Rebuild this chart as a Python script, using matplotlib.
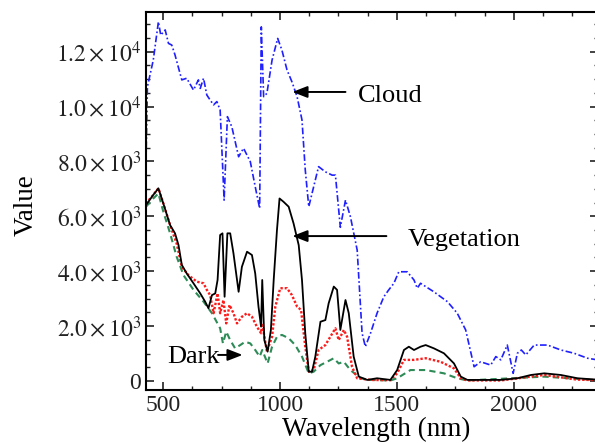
import numpy as np
import matplotlib
matplotlib.use("Agg")
import matplotlib.pyplot as plt
from matplotlib.ticker import MultipleLocator, FixedLocator

plt.rcParams['font.family'] = ['Liberation Serif', 'DejaVu Serif']
plt.rcParams['mathtext.fontset'] = 'stix'

# readings: wavelength (nm), value
cloud_wl = [427, 433, 458, 480, 490, 509, 523, 537, 551, 580, 601, 630, 651, 659,
            673, 687, 701, 716, 730, 744, 761, 775, 794, 823, 844, 873, 894, 913,
            920, 930, 944, 966, 990, 1008, 1030, 1051, 1073, 1094, 1108, 1123,
            1144, 1165, 1194, 1223, 1237, 1258, 1280, 1301, 1330, 1351, 1365,
            1387, 1415, 1444, 1465, 1487, 1508, 1544, 1573, 1587, 1601, 1623,
            1658, 1716, 1758, 1794, 1830, 1858, 1880, 1901, 1923, 1944, 1972,
            1997, 2015, 2032, 2051, 2087, 2144, 2201, 2258, 2315, 2372]
cloud_val = [8000, 10720, 11690, 13090, 12600, 12790, 12300, 12240, 11880, 10970,
             11030, 10600, 10970, 10660, 11030, 10420, 10240, 10060, 10180, 9870,
             6590, 9630, 9260, 8170, 8480, 7990, 7080, 6290, 12900, 10360, 10480,
             11690, 12480, 12060, 11330, 10900, 10360, 9510, 7690, 6350, 7080,
             7810, 7620, 7500, 7500, 5600, 6590, 5990, 4770, 1740, 1250, 1740,
             2470, 3070, 3320, 3560, 3980, 3980, 3680, 3380, 3560, 3440, 3250,
             2890, 2470, 1860, 520, 700, 640, 580, 890, 770, 1310, 280, 1010,
             1130, 950, 1310, 1310, 1130, 1010, 830, 750]

veg_wl = [427, 458, 480, 501, 530, 551, 566, 580, 601, 630, 659, 680, 694, 709,
          723, 733, 744, 754, 763, 775, 787, 801, 823, 837, 859, 880, 894, 908,
          919, 924, 933, 947, 961, 973, 987, 998, 1015, 1037, 1058, 1080, 1094,
          1108, 1123, 1137, 1151, 1173, 1194, 1208, 1230, 1244, 1258, 1280, 1294,
          1315, 1337, 1373, 1415, 1472, 1501, 1530, 1551, 1573, 1601, 1623, 1658,
          1701, 1744, 1773, 1801, 1944, 2015, 2073, 2130, 2201, 2272, 2372]
veg_val = [6410, 6780, 7020, 6470, 5680, 5380, 4950, 4230, 3920, 3560, 3190, 2890,
           2650, 3130, 3190, 3680, 5320, 5380, 3070, 5380, 5380, 4650, 3250, 4160,
           4710, 4590, 3920, 2710, 1980, 3680, 1490, 1070, 1860, 3680, 5500, 6650,
           6530, 6350, 5740, 4950, 3680, 1740, 340, 340, 890, 2160, 2220, 2830,
           3440, 3320, 1860, 2950, 2470, 890, 160, 40, 100, 40, 400, 1130, 1250,
           1130, 1250, 1310, 1190, 1010, 640, 160, 40, 40, 100, 220, 280, 220,
           100, 40]

mix_wl = [427, 458, 480, 501, 530, 558, 580, 608, 644, 673, 687, 701, 716, 733,
          744, 758, 770, 784, 801, 816, 837, 859, 880, 901, 919, 924, 944, 966,
          980, 1001, 1030, 1051, 1073, 1090, 1108, 1123, 1144, 1165, 1194, 1215,
          1237, 1251, 1273, 1287, 1308, 1330, 1387, 1472, 1501, 1530, 1573, 1623,
          1687, 1744, 1773, 1801, 1944, 2073, 2130, 2270, 2372]
mix_val = [6470, 6780, 7020, 6470, 5680, 5010, 4160, 3860, 3620, 3560, 3320, 3130,
           2470, 3190, 2470, 2950, 2100, 2770, 2470, 2100, 2340, 2470, 2340, 1980,
           1740, 2100, 1070, 1610, 2710, 3380, 3380, 3130, 2710, 2590, 1250, 340,
           400, 1130, 1310, 1610, 1920, 1490, 1860, 1610, 520, 100, 40, 30, 280,
           770, 770, 830, 700, 460, 100, 20, 20, 160, 220, 50, 30]

dark_wl = [427, 458, 480, 501, 530, 558, 587, 630, 673, 709, 744, 756, 770, 787,
           808, 830, 851, 873, 894, 913, 924, 947, 966, 987, 1008, 1037, 1065,
           1094, 1123, 1144, 1173, 1201, 1230, 1251, 1273, 1301, 1344, 1387, 1472,
           1501, 1558, 1623, 1701, 1758, 1801, 2130, 2372]
dark_val = [6350, 6650, 6830, 6170, 5380, 4530, 3860, 3320, 2890, 2470, 1920, 1370,
            1800, 1490, 1190, 1310, 1430, 1370, 1130, 890, 1130, 640, 1250, 1610,
            1680, 1560, 1310, 890, 280, 340, 580, 700, 830, 640, 700, 400, 100, 40,
            20, 100, 400, 400, 280, 100, 20, 160, 20]

yticks = [0, 2000, 4000, 6000, 8000, 10000, 12000]
ylabels = ['0', r'$2.0\times10^{3}$', r'$4.0\times10^{3}$', r'$6.0\times10^{3}$',
           r'$8.0\times10^{3}$', r'$1.0\times10^{4}$', r'$1.2\times10^{4}$']

fig = plt.figure(figsize=(5.95, 4.43), dpi=100)
ax = fig.add_axes([0.2454, 0.1196, 0.7597, 0.8533])

ax.plot(cloud_wl, cloud_val, color='#1f1fff', lw=1.2, ls=(0, (4, 1.5, 1, 1.5)))
ax.plot(dark_wl, dark_val, color='#2e8b57', lw=1.5, ls=(0, (3, 2)))
ax.plot(mix_wl, mix_val, color='#ff1a1a', lw=1.7, ls=(0, (1, 0.8)))
ax.plot(veg_wl, veg_val, color='black', lw=1.3)

ax.set_xlim(427, 2360)
ax.set_ylim(-328, 13443)

ax.xaxis.set_major_locator(FixedLocator([500, 1000, 1500, 2000]))
ax.xaxis.set_minor_locator(MultipleLocator(125))
ax.yaxis.set_major_locator(FixedLocator(yticks))
ax.yaxis.set_minor_locator(MultipleLocator(500))
ax.set_yticklabels(ylabels)
ax.tick_params(which='both', direction='in', top=True, right=True, labelsize=17,
               colors='#222222')
ax.tick_params(which='major', length=5.5, width=1.2)
ax.tick_params(which='minor', length=2.8, width=1.0)
for s in ax.spines.values():
    s.set_linewidth(1.5)
ax.spines['right'].set_visible(False)  # cut off at the image edge in the original

ax.set_xlabel('Wavelength (nm)', fontsize=19.5)
ax.set_ylabel('Value', fontsize=19.5)
ax.xaxis.set_label_coords(0.509, -0.072)
ax.yaxis.set_label_coords(-0.238, 0.49)

arr = dict(arrowstyle='-|>,head_length=0.9,head_width=0.35', color='black', lw=1.4,
           shrinkA=0, shrinkB=0)
ax.annotate('', xy=(1053, 10530), xytext=(1280, 10530), arrowprops=arr)
ax.text(1335, 10380, 'Cloud', fontsize=19, va='center', ha='left')
ax.annotate('', xy=(1053, 5280), xytext=(1455, 5280), arrowprops=arr)
ax.text(1545, 5140, 'Vegetation', fontsize=19, va='center', ha='left')
ax.annotate('', xy=(840, 950), xytext=(735, 950), arrowprops=arr)
ax.text(517, 875, 'Dark', fontsize=19, va='center', ha='left')

fig.savefig('out.png', dpi=100)
